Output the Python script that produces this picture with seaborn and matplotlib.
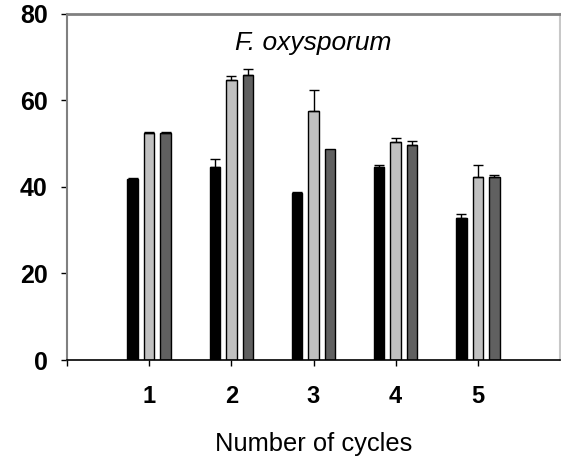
import matplotlib
matplotlib.use("Agg")
import matplotlib.pyplot as plt
import seaborn as sns
import pandas as pd
import numpy as np

# ---- data ----
cycles = [1, 2, 3, 4, 5]
series_names = ["Series 1", "Series 2", "Series 3"]
series1_vals = [41.8, 44.5, 38.6, 44.6, 32.7]
series2_vals = [52.4, 64.7, 57.6, 50.3, 42.3]
series3_vals = [52.4, 65.8, 48.8, 49.7, 42.2]
series1_err = [0.3, 2.0, 0.3, 0.4, 1.1]
series2_err = [0.2, 0.8, 4.7, 1.0, 2.7]
series3_err = [0.2, 1.4, 0.0, 0.9, 0.5]
y_ticks = [0, 20, 40, 60, 80]
x_tick_labels = ["1", "2", "3", "4", "5"]
title_text = "F. oxysporum"
x_label = "Number of cycles"
colors = ["#000000", "#c0c0c0", "#606060"]

vals = [series1_vals, series2_vals, series3_vals]
errs = [series1_err, series2_err, series3_err]
df = pd.DataFrame({
    "cycle": cycles * 3,
    "series": [s for s in series_names for _ in cycles],
    "value": series1_vals + series2_vals + series3_vals,
})

sns.set_theme(style="white")
plt.rcParams["font.family"] = ["Liberation Sans", "DejaVu Sans"]
plt.rcParams["text.color"] = "black"
plt.rcParams["axes.labelcolor"] = "black"
plt.rcParams["xtick.color"] = "black"
plt.rcParams["ytick.color"] = "black"

fig = plt.figure(figsize=(5.61, 4.58), dpi=100)
ax = fig.add_axes([67 / 561, 1 - 360 / 458, 493 / 561, 346.5 / 458])

sns.barplot(data=df, x="cycle", y="value", hue="series", hue_order=series_names,
            palette=colors, native_scale=True, width=0.6, gap=0.36,
            edgecolor="black", linewidth=1.0, errorbar=None, legend=False, ax=ax)

for cont, err in zip(ax.containers, errs):
    xs = [b.get_x() + b.get_width() / 2 for b in cont]
    hs = [b.get_height() for b in cont]
    for x, h, e in zip(xs, hs, err):
        if e > 0:
            ax.errorbar([x], [h], yerr=[[0], [e]], fmt="none", ecolor="black",
                        elinewidth=1.0, capsize=3.8, capthick=1.0, zorder=5)

ax.set_xlim(0, 6)
ax.set_ylim(0, 80)
ax.set_yticks(y_ticks)
ax.set_yticklabels([str(t) for t in y_ticks], fontsize=18, fontweight="bold", color="black")
ax.set_xticks([0] + cycles)
ax.set_xticklabels([""] + x_tick_labels, fontsize=17, fontweight="bold", color="black")
ax.tick_params(axis="y", direction="out", length=4, width=1, color="black", pad=10, left=True)
ax.tick_params(axis="x", direction="out", length=4, width=1, color="black", pad=14, bottom=True)
ax.set_xlabel(x_label, fontsize=18.4, labelpad=17, color="black")
ax.set_ylabel("")

for side, col, lw in [("left", "#808080", 1.5), ("top", "#808080", 2.0),
                      ("right", "#c8c8c8", 1.5), ("bottom", "#000000", 1.2)]:
    ax.spines[side].set_visible(True)
    ax.spines[side].set_color(col)
    ax.spines[side].set_linewidth(lw)

ax.text(0.5, 0.915, title_text, transform=ax.transAxes, ha="center", va="center",
        fontsize=19, fontstyle="italic", color="black")

fig.savefig("out.png", dpi=100)
